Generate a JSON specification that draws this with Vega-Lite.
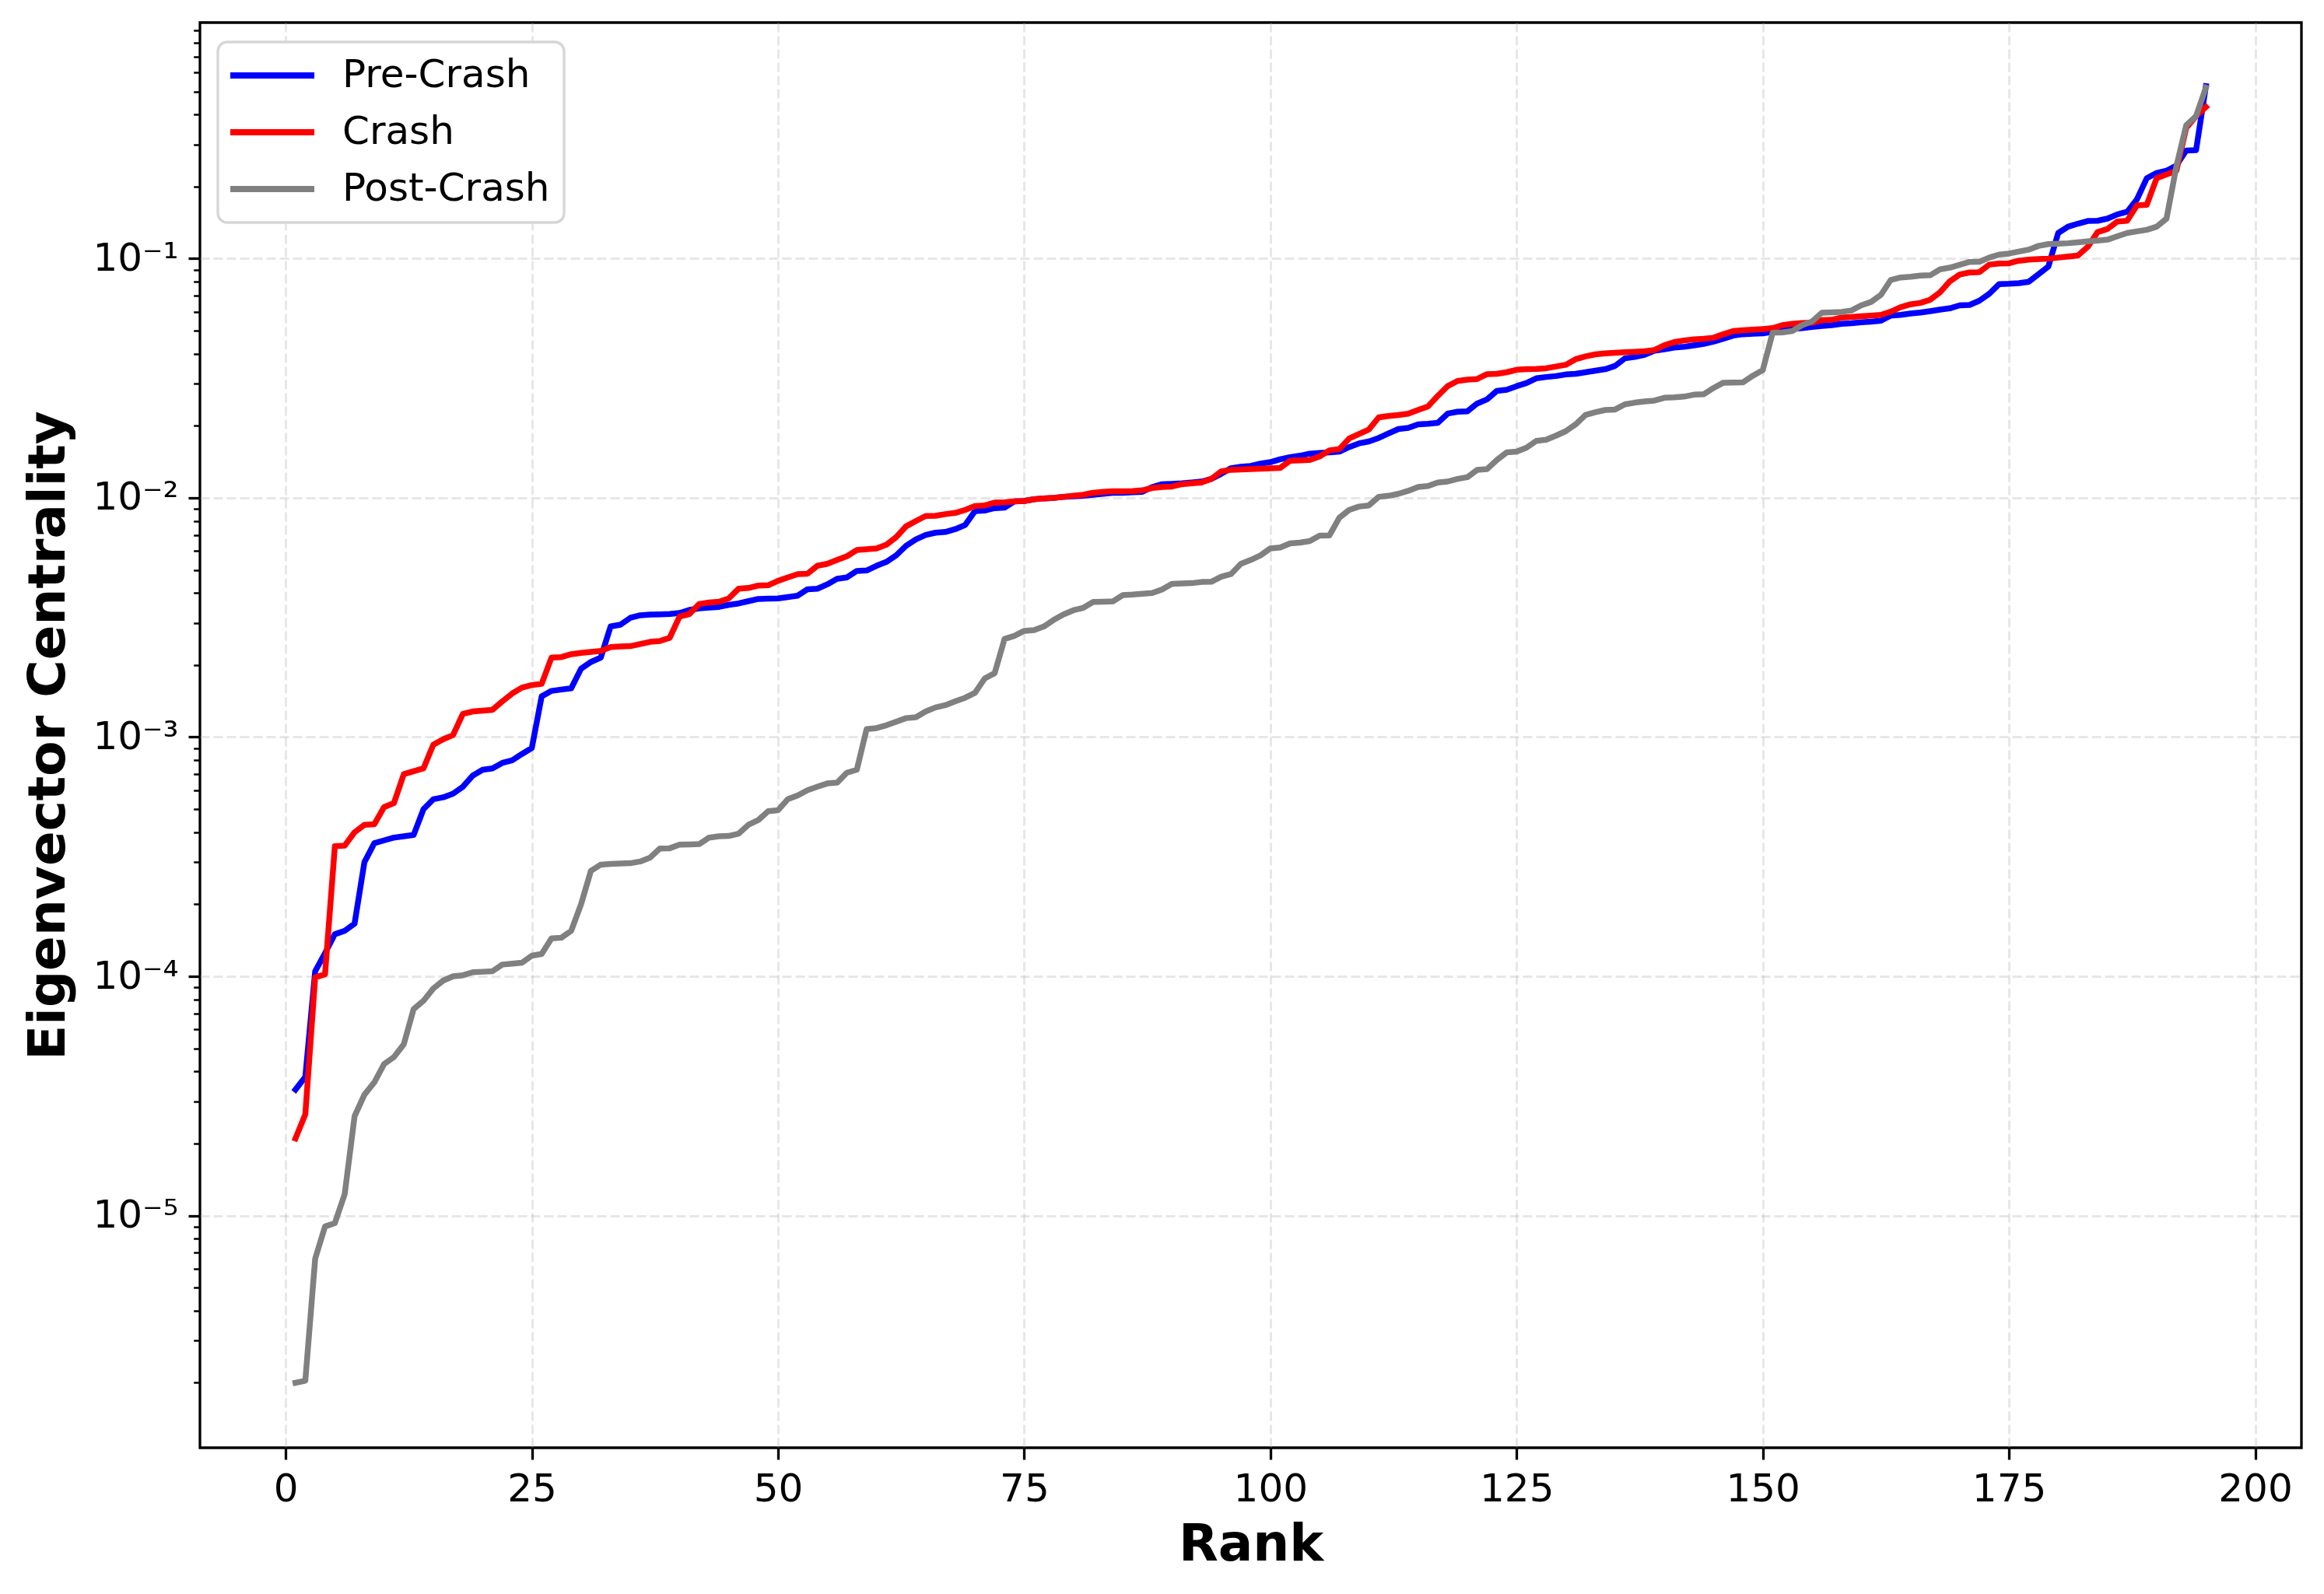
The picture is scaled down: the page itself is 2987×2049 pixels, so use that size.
{
"$schema": "https://vega.github.io/schema/vega-lite/v6.json",
"width": 2701, "height": 1832,
"autosize": {"type": "none"},
"padding": {"left": 257, "top": 29, "right": 29, "bottom": 188},
"background": "white",
"config": {
  "font": "DejaVu Sans",
  "view": {"stroke": "black", "strokeWidth": 3.3},
  "axis": {"domain": false, "labelColor": "black", "tickColor": "black", "titleColor": "black", "labelFont": "DejaVu Sans", "titleFont": "DejaVu Sans", "labelFontSize": 50, "titleFontSize": 66, "titleFontWeight": "bold", "labelPadding": 13, "gridColor": "#b0b0b0", "gridDash": [12, 5], "gridWidth": 3, "labelFlush": false, "labelOverlap": false}
},
"data": {"values": [
{"rank":1,"period":"Pre-Crash","centrality":3.36e-5},{"rank":2,"period":"Pre-Crash","centrality":3.8e-5},{"rank":3,"period":"Pre-Crash","centrality":1.05e-4},{"rank":4,"period":"Pre-Crash","centrality":1.25e-4},{"rank":5,"period":"Pre-Crash","centrality":1.5e-4},{"rank":6,"period":"Pre-Crash","centrality":1.55e-4},{"rank":7,"period":"Pre-Crash","centrality":1.66e-4},{"rank":8,"period":"Pre-Crash","centrality":3.0e-4},{"rank":9,"period":"Pre-Crash","centrality":3.6e-4},{"rank":10,"period":"Pre-Crash","centrality":3.7e-4},
{"rank":11,"period":"Pre-Crash","centrality":3.8e-4},{"rank":12,"period":"Pre-Crash","centrality":3.85e-4},{"rank":13,"period":"Pre-Crash","centrality":3.9e-4},{"rank":14,"period":"Pre-Crash","centrality":5.0e-4},{"rank":15,"period":"Pre-Crash","centrality":5.5e-4},{"rank":16,"period":"Pre-Crash","centrality":5.6e-4},{"rank":17,"period":"Pre-Crash","centrality":5.8e-4},{"rank":18,"period":"Pre-Crash","centrality":6.2e-4},{"rank":19,"period":"Pre-Crash","centrality":6.9e-4},{"rank":20,"period":"Pre-Crash","centrality":7.3e-4},
{"rank":21,"period":"Pre-Crash","centrality":7.4e-4},{"rank":22,"period":"Pre-Crash","centrality":7.8e-4},{"rank":23,"period":"Pre-Crash","centrality":8.0e-4},{"rank":24,"period":"Pre-Crash","centrality":8.5e-4},{"rank":25,"period":"Pre-Crash","centrality":9.0e-4},{"rank":26,"period":"Pre-Crash","centrality":1.48e-3},{"rank":27,"period":"Pre-Crash","centrality":1.56e-3},{"rank":28,"period":"Pre-Crash","centrality":1.58e-3},{"rank":29,"period":"Pre-Crash","centrality":1.6e-3},{"rank":30,"period":"Pre-Crash","centrality":1.93e-3},
{"rank":31,"period":"Pre-Crash","centrality":2.06e-3},{"rank":32,"period":"Pre-Crash","centrality":2.15e-3},{"rank":33,"period":"Pre-Crash","centrality":2.9e-3},{"rank":34,"period":"Pre-Crash","centrality":2.95e-3},{"rank":35,"period":"Pre-Crash","centrality":3.15e-3},{"rank":36,"period":"Pre-Crash","centrality":3.23e-3},{"rank":37,"period":"Pre-Crash","centrality":3.25e-3},{"rank":38,"period":"Pre-Crash","centrality":3.26e-3},{"rank":39,"period":"Pre-Crash","centrality":3.27e-3},{"rank":40,"period":"Pre-Crash","centrality":3.3e-3},
{"rank":41,"period":"Pre-Crash","centrality":3.4e-3},{"rank":42,"period":"Pre-Crash","centrality":3.45e-3},{"rank":43,"period":"Pre-Crash","centrality":3.48e-3},{"rank":44,"period":"Pre-Crash","centrality":3.5e-3},{"rank":45,"period":"Pre-Crash","centrality":3.57e-3},{"rank":46,"period":"Pre-Crash","centrality":3.62e-3},{"rank":47,"period":"Pre-Crash","centrality":3.7e-3},{"rank":48,"period":"Pre-Crash","centrality":3.78e-3},{"rank":49,"period":"Pre-Crash","centrality":3.79e-3},{"rank":50,"period":"Pre-Crash","centrality":3.8e-3},
{"rank":51,"period":"Pre-Crash","centrality":3.85e-3},{"rank":52,"period":"Pre-Crash","centrality":3.9e-3},{"rank":53,"period":"Pre-Crash","centrality":4.15e-3},{"rank":54,"period":"Pre-Crash","centrality":4.17e-3},{"rank":55,"period":"Pre-Crash","centrality":4.35e-3},{"rank":56,"period":"Pre-Crash","centrality":4.59e-3},{"rank":57,"period":"Pre-Crash","centrality":4.65e-3},{"rank":58,"period":"Pre-Crash","centrality":4.95e-3},{"rank":59,"period":"Pre-Crash","centrality":4.97e-3},{"rank":60,"period":"Pre-Crash","centrality":5.2e-3},
{"rank":61,"period":"Pre-Crash","centrality":5.4e-3},{"rank":62,"period":"Pre-Crash","centrality":5.75e-3},{"rank":63,"period":"Pre-Crash","centrality":6.3e-3},{"rank":64,"period":"Pre-Crash","centrality":6.7e-3},{"rank":65,"period":"Pre-Crash","centrality":7.0e-3},{"rank":66,"period":"Pre-Crash","centrality":7.15e-3},{"rank":67,"period":"Pre-Crash","centrality":7.2e-3},{"rank":68,"period":"Pre-Crash","centrality":7.4e-3},{"rank":69,"period":"Pre-Crash","centrality":7.7e-3},{"rank":70,"period":"Pre-Crash","centrality":8.8e-3},
{"rank":71,"period":"Pre-Crash","centrality":8.85e-3},{"rank":72,"period":"Pre-Crash","centrality":9.06e-3},{"rank":73,"period":"Pre-Crash","centrality":9.1e-3},{"rank":74,"period":"Pre-Crash","centrality":9.66e-3},{"rank":75,"period":"Pre-Crash","centrality":9.7e-3},{"rank":76,"period":"Pre-Crash","centrality":9.87e-3},{"rank":77,"period":"Pre-Crash","centrality":9.95e-3},{"rank":78,"period":"Pre-Crash","centrality":1.0e-2},{"rank":79,"period":"Pre-Crash","centrality":1.01e-2},{"rank":80,"period":"Pre-Crash","centrality":1.015e-2},
{"rank":81,"period":"Pre-Crash","centrality":1.02e-2},{"rank":82,"period":"Pre-Crash","centrality":1.03e-2},{"rank":83,"period":"Pre-Crash","centrality":1.04e-2},{"rank":84,"period":"Pre-Crash","centrality":1.05e-2},{"rank":85,"period":"Pre-Crash","centrality":1.05e-2},{"rank":86,"period":"Pre-Crash","centrality":1.055e-2},{"rank":87,"period":"Pre-Crash","centrality":1.06e-2},{"rank":88,"period":"Pre-Crash","centrality":1.11e-2},{"rank":89,"period":"Pre-Crash","centrality":1.14e-2},{"rank":90,"period":"Pre-Crash","centrality":1.145e-2},
{"rank":91,"period":"Pre-Crash","centrality":1.15e-2},{"rank":92,"period":"Pre-Crash","centrality":1.16e-2},{"rank":93,"period":"Pre-Crash","centrality":1.17e-2},{"rank":94,"period":"Pre-Crash","centrality":1.2e-2},{"rank":95,"period":"Pre-Crash","centrality":1.26e-2},{"rank":96,"period":"Pre-Crash","centrality":1.33e-2},{"rank":97,"period":"Pre-Crash","centrality":1.35e-2},{"rank":98,"period":"Pre-Crash","centrality":1.36e-2},{"rank":99,"period":"Pre-Crash","centrality":1.39e-2},{"rank":100,"period":"Pre-Crash","centrality":1.41e-2},
{"rank":101,"period":"Pre-Crash","centrality":1.45e-2},{"rank":102,"period":"Pre-Crash","centrality":1.48e-2},{"rank":103,"period":"Pre-Crash","centrality":1.5e-2},{"rank":104,"period":"Pre-Crash","centrality":1.53e-2},{"rank":105,"period":"Pre-Crash","centrality":1.54e-2},{"rank":106,"period":"Pre-Crash","centrality":1.55e-2},{"rank":107,"period":"Pre-Crash","centrality":1.56e-2},{"rank":108,"period":"Pre-Crash","centrality":1.63e-2},{"rank":109,"period":"Pre-Crash","centrality":1.69e-2},{"rank":110,"period":"Pre-Crash","centrality":1.72e-2},
{"rank":111,"period":"Pre-Crash","centrality":1.78e-2},{"rank":112,"period":"Pre-Crash","centrality":1.86e-2},{"rank":113,"period":"Pre-Crash","centrality":1.94e-2},{"rank":114,"period":"Pre-Crash","centrality":1.96e-2},{"rank":115,"period":"Pre-Crash","centrality":2.03e-2},{"rank":116,"period":"Pre-Crash","centrality":2.04e-2},{"rank":117,"period":"Pre-Crash","centrality":2.06e-2},{"rank":118,"period":"Pre-Crash","centrality":2.25e-2},{"rank":119,"period":"Pre-Crash","centrality":2.29e-2},{"rank":120,"period":"Pre-Crash","centrality":2.3e-2},
{"rank":121,"period":"Pre-Crash","centrality":2.48e-2},{"rank":122,"period":"Pre-Crash","centrality":2.58e-2},{"rank":123,"period":"Pre-Crash","centrality":2.8e-2},{"rank":124,"period":"Pre-Crash","centrality":2.83e-2},{"rank":125,"period":"Pre-Crash","centrality":2.93e-2},{"rank":126,"period":"Pre-Crash","centrality":3.02e-2},{"rank":127,"period":"Pre-Crash","centrality":3.16e-2},{"rank":128,"period":"Pre-Crash","centrality":3.2e-2},{"rank":129,"period":"Pre-Crash","centrality":3.23e-2},{"rank":130,"period":"Pre-Crash","centrality":3.28e-2},
{"rank":131,"period":"Pre-Crash","centrality":3.3e-2},{"rank":132,"period":"Pre-Crash","centrality":3.35e-2},{"rank":133,"period":"Pre-Crash","centrality":3.4e-2},{"rank":134,"period":"Pre-Crash","centrality":3.45e-2},{"rank":135,"period":"Pre-Crash","centrality":3.56e-2},{"rank":136,"period":"Pre-Crash","centrality":3.83e-2},{"rank":137,"period":"Pre-Crash","centrality":3.88e-2},{"rank":138,"period":"Pre-Crash","centrality":3.96e-2},{"rank":139,"period":"Pre-Crash","centrality":4.12e-2},{"rank":140,"period":"Pre-Crash","centrality":4.18e-2},
{"rank":141,"period":"Pre-Crash","centrality":4.25e-2},{"rank":142,"period":"Pre-Crash","centrality":4.28e-2},{"rank":143,"period":"Pre-Crash","centrality":4.34e-2},{"rank":144,"period":"Pre-Crash","centrality":4.4e-2},{"rank":145,"period":"Pre-Crash","centrality":4.5e-2},{"rank":146,"period":"Pre-Crash","centrality":4.63e-2},{"rank":147,"period":"Pre-Crash","centrality":4.77e-2},{"rank":148,"period":"Pre-Crash","centrality":4.83e-2},{"rank":149,"period":"Pre-Crash","centrality":4.85e-2},{"rank":150,"period":"Pre-Crash","centrality":4.87e-2},
{"rank":151,"period":"Pre-Crash","centrality":4.94e-2},{"rank":152,"period":"Pre-Crash","centrality":5.05e-2},{"rank":153,"period":"Pre-Crash","centrality":5.09e-2},{"rank":154,"period":"Pre-Crash","centrality":5.12e-2},{"rank":155,"period":"Pre-Crash","centrality":5.18e-2},{"rank":156,"period":"Pre-Crash","centrality":5.23e-2},{"rank":157,"period":"Pre-Crash","centrality":5.27e-2},{"rank":158,"period":"Pre-Crash","centrality":5.34e-2},{"rank":159,"period":"Pre-Crash","centrality":5.37e-2},{"rank":160,"period":"Pre-Crash","centrality":5.42e-2},
{"rank":161,"period":"Pre-Crash","centrality":5.45e-2},{"rank":162,"period":"Pre-Crash","centrality":5.5e-2},{"rank":163,"period":"Pre-Crash","centrality":5.78e-2},{"rank":164,"period":"Pre-Crash","centrality":5.82e-2},{"rank":165,"period":"Pre-Crash","centrality":5.9e-2},{"rank":166,"period":"Pre-Crash","centrality":5.95e-2},{"rank":167,"period":"Pre-Crash","centrality":6.03e-2},{"rank":168,"period":"Pre-Crash","centrality":6.12e-2},{"rank":169,"period":"Pre-Crash","centrality":6.2e-2},{"rank":170,"period":"Pre-Crash","centrality":6.38e-2},
{"rank":171,"period":"Pre-Crash","centrality":6.4e-2},{"rank":172,"period":"Pre-Crash","centrality":6.67e-2},{"rank":173,"period":"Pre-Crash","centrality":7.13e-2},{"rank":174,"period":"Pre-Crash","centrality":7.82e-2},{"rank":175,"period":"Pre-Crash","centrality":7.85e-2},{"rank":176,"period":"Pre-Crash","centrality":7.9e-2},{"rank":177,"period":"Pre-Crash","centrality":8.0e-2},{"rank":178,"period":"Pre-Crash","centrality":8.6e-2},{"rank":179,"period":"Pre-Crash","centrality":9.27e-2},{"rank":180,"period":"Pre-Crash","centrality":0.128},
{"rank":181,"period":"Pre-Crash","centrality":0.136},{"rank":182,"period":"Pre-Crash","centrality":0.14},{"rank":183,"period":"Pre-Crash","centrality":0.1436},{"rank":184,"period":"Pre-Crash","centrality":0.144},{"rank":185,"period":"Pre-Crash","centrality":0.147},{"rank":186,"period":"Pre-Crash","centrality":0.153},{"rank":187,"period":"Pre-Crash","centrality":0.157},{"rank":188,"period":"Pre-Crash","centrality":0.177},{"rank":189,"period":"Pre-Crash","centrality":0.217},{"rank":190,"period":"Pre-Crash","centrality":0.228},
{"rank":191,"period":"Pre-Crash","centrality":0.233},{"rank":192,"period":"Pre-Crash","centrality":0.245},{"rank":193,"period":"Pre-Crash","centrality":0.283},{"rank":194,"period":"Pre-Crash","centrality":0.284},{"rank":195,"period":"Pre-Crash","centrality":0.526},
{"rank":1,"period":"Crash","centrality":2.1e-5},{"rank":2,"period":"Crash","centrality":2.65e-5},{"rank":3,"period":"Crash","centrality":9.9e-5},{"rank":4,"period":"Crash","centrality":1.02e-4},{"rank":5,"period":"Crash","centrality":3.5e-4},{"rank":6,"period":"Crash","centrality":3.52e-4},{"rank":7,"period":"Crash","centrality":4.0e-4},{"rank":8,"period":"Crash","centrality":4.3e-4},{"rank":9,"period":"Crash","centrality":4.32e-4},{"rank":10,"period":"Crash","centrality":5.1e-4},
{"rank":11,"period":"Crash","centrality":5.3e-4},{"rank":12,"period":"Crash","centrality":7.0e-4},{"rank":13,"period":"Crash","centrality":7.2e-4},{"rank":14,"period":"Crash","centrality":7.4e-4},{"rank":15,"period":"Crash","centrality":9.3e-4},{"rank":16,"period":"Crash","centrality":9.8e-4},{"rank":17,"period":"Crash","centrality":1.02e-3},{"rank":18,"period":"Crash","centrality":1.25e-3},{"rank":19,"period":"Crash","centrality":1.28e-3},{"rank":20,"period":"Crash","centrality":1.29e-3},
{"rank":21,"period":"Crash","centrality":1.3e-3},{"rank":22,"period":"Crash","centrality":1.41e-3},{"rank":23,"period":"Crash","centrality":1.52e-3},{"rank":24,"period":"Crash","centrality":1.61e-3},{"rank":25,"period":"Crash","centrality":1.65e-3},{"rank":26,"period":"Crash","centrality":1.67e-3},{"rank":27,"period":"Crash","centrality":2.15e-3},{"rank":28,"period":"Crash","centrality":2.16e-3},{"rank":29,"period":"Crash","centrality":2.22e-3},{"rank":30,"period":"Crash","centrality":2.25e-3},
{"rank":31,"period":"Crash","centrality":2.27e-3},{"rank":32,"period":"Crash","centrality":2.29e-3},{"rank":33,"period":"Crash","centrality":2.38e-3},{"rank":34,"period":"Crash","centrality":2.39e-3},{"rank":35,"period":"Crash","centrality":2.4e-3},{"rank":36,"period":"Crash","centrality":2.45e-3},{"rank":37,"period":"Crash","centrality":2.5e-3},{"rank":38,"period":"Crash","centrality":2.52e-3},{"rank":39,"period":"Crash","centrality":2.6e-3},{"rank":40,"period":"Crash","centrality":3.19e-3},
{"rank":41,"period":"Crash","centrality":3.27e-3},{"rank":42,"period":"Crash","centrality":3.6e-3},{"rank":43,"period":"Crash","centrality":3.65e-3},{"rank":44,"period":"Crash","centrality":3.68e-3},{"rank":45,"period":"Crash","centrality":3.8e-3},{"rank":46,"period":"Crash","centrality":4.17e-3},{"rank":47,"period":"Crash","centrality":4.2e-3},{"rank":48,"period":"Crash","centrality":4.3e-3},{"rank":49,"period":"Crash","centrality":4.31e-3},{"rank":50,"period":"Crash","centrality":4.5e-3},
{"rank":51,"period":"Crash","centrality":4.65e-3},{"rank":52,"period":"Crash","centrality":4.8e-3},{"rank":53,"period":"Crash","centrality":4.82e-3},{"rank":54,"period":"Crash","centrality":5.2e-3},{"rank":55,"period":"Crash","centrality":5.3e-3},{"rank":56,"period":"Crash","centrality":5.5e-3},{"rank":57,"period":"Crash","centrality":5.7e-3},{"rank":58,"period":"Crash","centrality":6.05e-3},{"rank":59,"period":"Crash","centrality":6.1e-3},{"rank":60,"period":"Crash","centrality":6.15e-3},
{"rank":61,"period":"Crash","centrality":6.37e-3},{"rank":62,"period":"Crash","centrality":6.85e-3},{"rank":63,"period":"Crash","centrality":7.6e-3},{"rank":64,"period":"Crash","centrality":8.0e-3},{"rank":65,"period":"Crash","centrality":8.4e-3},{"rank":66,"period":"Crash","centrality":8.42e-3},{"rank":67,"period":"Crash","centrality":8.55e-3},{"rank":68,"period":"Crash","centrality":8.65e-3},{"rank":69,"period":"Crash","centrality":8.9e-3},{"rank":70,"period":"Crash","centrality":9.25e-3},
{"rank":71,"period":"Crash","centrality":9.3e-3},{"rank":72,"period":"Crash","centrality":9.55e-3},{"rank":73,"period":"Crash","centrality":9.57e-3},{"rank":74,"period":"Crash","centrality":9.66e-3},{"rank":75,"period":"Crash","centrality":9.7e-3},{"rank":76,"period":"Crash","centrality":9.87e-3},{"rank":77,"period":"Crash","centrality":9.95e-3},{"rank":78,"period":"Crash","centrality":1.0e-2},{"rank":79,"period":"Crash","centrality":1.01e-2},{"rank":80,"period":"Crash","centrality":1.02e-2},
{"rank":81,"period":"Crash","centrality":1.03e-2},{"rank":82,"period":"Crash","centrality":1.05e-2},{"rank":83,"period":"Crash","centrality":1.06e-2},{"rank":84,"period":"Crash","centrality":1.065e-2},{"rank":85,"period":"Crash","centrality":1.066e-2},{"rank":86,"period":"Crash","centrality":1.068e-2},{"rank":87,"period":"Crash","centrality":1.075e-2},{"rank":88,"period":"Crash","centrality":1.1e-2},{"rank":89,"period":"Crash","centrality":1.11e-2},{"rank":90,"period":"Crash","centrality":1.115e-2},
{"rank":91,"period":"Crash","centrality":1.14e-2},{"rank":92,"period":"Crash","centrality":1.15e-2},{"rank":93,"period":"Crash","centrality":1.16e-2},{"rank":94,"period":"Crash","centrality":1.2e-2},{"rank":95,"period":"Crash","centrality":1.29e-2},{"rank":96,"period":"Crash","centrality":1.31e-2},{"rank":97,"period":"Crash","centrality":1.315e-2},{"rank":98,"period":"Crash","centrality":1.32e-2},{"rank":99,"period":"Crash","centrality":1.325e-2},{"rank":100,"period":"Crash","centrality":1.33e-2},
{"rank":101,"period":"Crash","centrality":1.335e-2},{"rank":102,"period":"Crash","centrality":1.43e-2},{"rank":103,"period":"Crash","centrality":1.435e-2},{"rank":104,"period":"Crash","centrality":1.44e-2},{"rank":105,"period":"Crash","centrality":1.49e-2},{"rank":106,"period":"Crash","centrality":1.58e-2},{"rank":107,"period":"Crash","centrality":1.6e-2},{"rank":108,"period":"Crash","centrality":1.77e-2},{"rank":109,"period":"Crash","centrality":1.85e-2},{"rank":110,"period":"Crash","centrality":1.93e-2},
{"rank":111,"period":"Crash","centrality":2.17e-2},{"rank":112,"period":"Crash","centrality":2.2e-2},{"rank":113,"period":"Crash","centrality":2.22e-2},{"rank":114,"period":"Crash","centrality":2.25e-2},{"rank":115,"period":"Crash","centrality":2.33e-2},{"rank":116,"period":"Crash","centrality":2.41e-2},{"rank":117,"period":"Crash","centrality":2.67e-2},{"rank":118,"period":"Crash","centrality":2.93e-2},{"rank":119,"period":"Crash","centrality":3.08e-2},{"rank":120,"period":"Crash","centrality":3.12e-2},
{"rank":121,"period":"Crash","centrality":3.14e-2},{"rank":122,"period":"Crash","centrality":3.29e-2},{"rank":123,"period":"Crash","centrality":3.3e-2},{"rank":124,"period":"Crash","centrality":3.35e-2},{"rank":125,"period":"Crash","centrality":3.43e-2},{"rank":126,"period":"Crash","centrality":3.45e-2},{"rank":127,"period":"Crash","centrality":3.46e-2},{"rank":128,"period":"Crash","centrality":3.48e-2},{"rank":129,"period":"Crash","centrality":3.54e-2},{"rank":130,"period":"Crash","centrality":3.6e-2},
{"rank":131,"period":"Crash","centrality":3.8e-2},{"rank":132,"period":"Crash","centrality":3.9e-2},{"rank":133,"period":"Crash","centrality":3.98e-2},{"rank":134,"period":"Crash","centrality":4.02e-2},{"rank":135,"period":"Crash","centrality":4.04e-2},{"rank":136,"period":"Crash","centrality":4.06e-2},{"rank":137,"period":"Crash","centrality":4.08e-2},{"rank":138,"period":"Crash","centrality":4.1e-2},{"rank":139,"period":"Crash","centrality":4.15e-2},{"rank":140,"period":"Crash","centrality":4.34e-2},
{"rank":141,"period":"Crash","centrality":4.48e-2},{"rank":142,"period":"Crash","centrality":4.55e-2},{"rank":143,"period":"Crash","centrality":4.6e-2},{"rank":144,"period":"Crash","centrality":4.62e-2},{"rank":145,"period":"Crash","centrality":4.67e-2},{"rank":146,"period":"Crash","centrality":4.83e-2},{"rank":147,"period":"Crash","centrality":4.98e-2},{"rank":148,"period":"Crash","centrality":5.02e-2},{"rank":149,"period":"Crash","centrality":5.05e-2},{"rank":150,"period":"Crash","centrality":5.08e-2},
{"rank":151,"period":"Crash","centrality":5.12e-2},{"rank":152,"period":"Crash","centrality":5.27e-2},{"rank":153,"period":"Crash","centrality":5.34e-2},{"rank":154,"period":"Crash","centrality":5.38e-2},{"rank":155,"period":"Crash","centrality":5.4e-2},{"rank":156,"period":"Crash","centrality":5.53e-2},{"rank":157,"period":"Crash","centrality":5.55e-2},{"rank":158,"period":"Crash","centrality":5.67e-2},{"rank":159,"period":"Crash","centrality":5.7e-2},{"rank":160,"period":"Crash","centrality":5.74e-2},
{"rank":161,"period":"Crash","centrality":5.78e-2},{"rank":162,"period":"Crash","centrality":5.82e-2},{"rank":163,"period":"Crash","centrality":6.0e-2},{"rank":164,"period":"Crash","centrality":6.27e-2},{"rank":165,"period":"Crash","centrality":6.44e-2},{"rank":166,"period":"Crash","centrality":6.53e-2},{"rank":167,"period":"Crash","centrality":6.73e-2},{"rank":168,"period":"Crash","centrality":7.23e-2},{"rank":169,"period":"Crash","centrality":8.04e-2},{"rank":170,"period":"Crash","centrality":8.58e-2},
{"rank":171,"period":"Crash","centrality":8.75e-2},{"rank":172,"period":"Crash","centrality":8.78e-2},{"rank":173,"period":"Crash","centrality":9.44e-2},{"rank":174,"period":"Crash","centrality":9.54e-2},{"rank":175,"period":"Crash","centrality":9.56e-2},{"rank":176,"period":"Crash","centrality":9.8e-2},{"rank":177,"period":"Crash","centrality":9.9e-2},{"rank":178,"period":"Crash","centrality":9.95e-2},{"rank":179,"period":"Crash","centrality":0.1},{"rank":180,"period":"Crash","centrality":0.101},
{"rank":181,"period":"Crash","centrality":0.102},{"rank":182,"period":"Crash","centrality":0.103},{"rank":183,"period":"Crash","centrality":0.112},{"rank":184,"period":"Crash","centrality":0.129},{"rank":185,"period":"Crash","centrality":0.133},{"rank":186,"period":"Crash","centrality":0.143},{"rank":187,"period":"Crash","centrality":0.144},{"rank":188,"period":"Crash","centrality":0.167},{"rank":189,"period":"Crash","centrality":0.168},{"rank":190,"period":"Crash","centrality":0.217},
{"rank":191,"period":"Crash","centrality":0.225},{"rank":192,"period":"Crash","centrality":0.233},{"rank":193,"period":"Crash","centrality":0.352},{"rank":194,"period":"Crash","centrality":0.394},{"rank":195,"period":"Crash","centrality":0.43},
{"rank":1,"period":"Post-Crash","centrality":2.0e-6},{"rank":2,"period":"Post-Crash","centrality":2.04e-6},{"rank":3,"period":"Post-Crash","centrality":6.6e-6},{"rank":4,"period":"Post-Crash","centrality":9.0e-6},{"rank":5,"period":"Post-Crash","centrality":9.3e-6},{"rank":6,"period":"Post-Crash","centrality":1.23e-5},{"rank":7,"period":"Post-Crash","centrality":2.6e-5},{"rank":8,"period":"Post-Crash","centrality":3.2e-5},{"rank":9,"period":"Post-Crash","centrality":3.6e-5},{"rank":10,"period":"Post-Crash","centrality":4.3e-5},
{"rank":11,"period":"Post-Crash","centrality":4.6e-5},{"rank":12,"period":"Post-Crash","centrality":5.2e-5},{"rank":13,"period":"Post-Crash","centrality":7.3e-5},{"rank":14,"period":"Post-Crash","centrality":7.9e-5},{"rank":15,"period":"Post-Crash","centrality":8.9e-5},{"rank":16,"period":"Post-Crash","centrality":9.6e-5},{"rank":17,"period":"Post-Crash","centrality":1.0e-4},{"rank":18,"period":"Post-Crash","centrality":1.01e-4},{"rank":19,"period":"Post-Crash","centrality":1.04e-4},{"rank":20,"period":"Post-Crash","centrality":1.045e-4},
{"rank":21,"period":"Post-Crash","centrality":1.05e-4},{"rank":22,"period":"Post-Crash","centrality":1.12e-4},{"rank":23,"period":"Post-Crash","centrality":1.13e-4},{"rank":24,"period":"Post-Crash","centrality":1.14e-4},{"rank":25,"period":"Post-Crash","centrality":1.22e-4},{"rank":26,"period":"Post-Crash","centrality":1.24e-4},{"rank":27,"period":"Post-Crash","centrality":1.44e-4},{"rank":28,"period":"Post-Crash","centrality":1.45e-4},{"rank":29,"period":"Post-Crash","centrality":1.55e-4},{"rank":30,"period":"Post-Crash","centrality":2.0e-4},
{"rank":31,"period":"Post-Crash","centrality":2.76e-4},{"rank":32,"period":"Post-Crash","centrality":2.93e-4},{"rank":33,"period":"Post-Crash","centrality":2.95e-4},{"rank":34,"period":"Post-Crash","centrality":2.96e-4},{"rank":35,"period":"Post-Crash","centrality":2.97e-4},{"rank":36,"period":"Post-Crash","centrality":3.02e-4},{"rank":37,"period":"Post-Crash","centrality":3.13e-4},{"rank":38,"period":"Post-Crash","centrality":3.42e-4},{"rank":39,"period":"Post-Crash","centrality":3.43e-4},{"rank":40,"period":"Post-Crash","centrality":3.55e-4},
{"rank":41,"period":"Post-Crash","centrality":3.56e-4},{"rank":42,"period":"Post-Crash","centrality":3.57e-4},{"rank":43,"period":"Post-Crash","centrality":3.8e-4},{"rank":44,"period":"Post-Crash","centrality":3.85e-4},{"rank":45,"period":"Post-Crash","centrality":3.86e-4},{"rank":46,"period":"Post-Crash","centrality":3.95e-4},{"rank":47,"period":"Post-Crash","centrality":4.3e-4},{"rank":48,"period":"Post-Crash","centrality":4.5e-4},{"rank":49,"period":"Post-Crash","centrality":4.9e-4},{"rank":50,"period":"Post-Crash","centrality":4.95e-4},
{"rank":51,"period":"Post-Crash","centrality":5.5e-4},{"rank":52,"period":"Post-Crash","centrality":5.7e-4},{"rank":53,"period":"Post-Crash","centrality":6.0e-4},{"rank":54,"period":"Post-Crash","centrality":6.2e-4},{"rank":55,"period":"Post-Crash","centrality":6.4e-4},{"rank":56,"period":"Post-Crash","centrality":6.45e-4},{"rank":57,"period":"Post-Crash","centrality":7.1e-4},{"rank":58,"period":"Post-Crash","centrality":7.3e-4},{"rank":59,"period":"Post-Crash","centrality":1.08e-3},{"rank":60,"period":"Post-Crash","centrality":1.09e-3},
{"rank":61,"period":"Post-Crash","centrality":1.12e-3},{"rank":62,"period":"Post-Crash","centrality":1.16e-3},{"rank":63,"period":"Post-Crash","centrality":1.2e-3},{"rank":64,"period":"Post-Crash","centrality":1.21e-3},{"rank":65,"period":"Post-Crash","centrality":1.28e-3},{"rank":66,"period":"Post-Crash","centrality":1.33e-3},{"rank":67,"period":"Post-Crash","centrality":1.36e-3},{"rank":68,"period":"Post-Crash","centrality":1.41e-3},{"rank":69,"period":"Post-Crash","centrality":1.46e-3},{"rank":70,"period":"Post-Crash","centrality":1.53e-3},
{"rank":71,"period":"Post-Crash","centrality":1.76e-3},{"rank":72,"period":"Post-Crash","centrality":1.85e-3},{"rank":73,"period":"Post-Crash","centrality":2.57e-3},{"rank":74,"period":"Post-Crash","centrality":2.65e-3},{"rank":75,"period":"Post-Crash","centrality":2.78e-3},{"rank":76,"period":"Post-Crash","centrality":2.8e-3},{"rank":77,"period":"Post-Crash","centrality":2.9e-3},{"rank":78,"period":"Post-Crash","centrality":3.09e-3},{"rank":79,"period":"Post-Crash","centrality":3.26e-3},{"rank":80,"period":"Post-Crash","centrality":3.39e-3},
{"rank":81,"period":"Post-Crash","centrality":3.47e-3},{"rank":82,"period":"Post-Crash","centrality":3.67e-3},{"rank":83,"period":"Post-Crash","centrality":3.68e-3},{"rank":84,"period":"Post-Crash","centrality":3.69e-3},{"rank":85,"period":"Post-Crash","centrality":3.92e-3},{"rank":86,"period":"Post-Crash","centrality":3.94e-3},{"rank":87,"period":"Post-Crash","centrality":3.97e-3},{"rank":88,"period":"Post-Crash","centrality":4.0e-3},{"rank":89,"period":"Post-Crash","centrality":4.14e-3},{"rank":90,"period":"Post-Crash","centrality":4.37e-3},
{"rank":91,"period":"Post-Crash","centrality":4.39e-3},{"rank":92,"period":"Post-Crash","centrality":4.4e-3},{"rank":93,"period":"Post-Crash","centrality":4.45e-3},{"rank":94,"period":"Post-Crash","centrality":4.46e-3},{"rank":95,"period":"Post-Crash","centrality":4.68e-3},{"rank":96,"period":"Post-Crash","centrality":4.8e-3},{"rank":97,"period":"Post-Crash","centrality":5.3e-3},{"rank":98,"period":"Post-Crash","centrality":5.5e-3},{"rank":99,"period":"Post-Crash","centrality":5.75e-3},{"rank":100,"period":"Post-Crash","centrality":6.15e-3},
{"rank":101,"period":"Post-Crash","centrality":6.2e-3},{"rank":102,"period":"Post-Crash","centrality":6.45e-3},{"rank":103,"period":"Post-Crash","centrality":6.5e-3},{"rank":104,"period":"Post-Crash","centrality":6.6e-3},{"rank":105,"period":"Post-Crash","centrality":6.95e-3},{"rank":106,"period":"Post-Crash","centrality":6.97e-3},{"rank":107,"period":"Post-Crash","centrality":8.26e-3},{"rank":108,"period":"Post-Crash","centrality":8.9e-3},{"rank":109,"period":"Post-Crash","centrality":9.2e-3},{"rank":110,"period":"Post-Crash","centrality":9.3e-3},
{"rank":111,"period":"Post-Crash","centrality":1.01e-2},{"rank":112,"period":"Post-Crash","centrality":1.02e-2},{"rank":113,"period":"Post-Crash","centrality":1.04e-2},{"rank":114,"period":"Post-Crash","centrality":1.07e-2},{"rank":115,"period":"Post-Crash","centrality":1.11e-2},{"rank":116,"period":"Post-Crash","centrality":1.12e-2},{"rank":117,"period":"Post-Crash","centrality":1.16e-2},{"rank":118,"period":"Post-Crash","centrality":1.17e-2},{"rank":119,"period":"Post-Crash","centrality":1.2e-2},{"rank":120,"period":"Post-Crash","centrality":1.22e-2},
{"rank":121,"period":"Post-Crash","centrality":1.31e-2},{"rank":122,"period":"Post-Crash","centrality":1.32e-2},{"rank":123,"period":"Post-Crash","centrality":1.44e-2},{"rank":124,"period":"Post-Crash","centrality":1.55e-2},{"rank":125,"period":"Post-Crash","centrality":1.56e-2},{"rank":126,"period":"Post-Crash","centrality":1.62e-2},{"rank":127,"period":"Post-Crash","centrality":1.73e-2},{"rank":128,"period":"Post-Crash","centrality":1.75e-2},{"rank":129,"period":"Post-Crash","centrality":1.82e-2},{"rank":130,"period":"Post-Crash","centrality":1.9e-2},
{"rank":131,"period":"Post-Crash","centrality":2.03e-2},{"rank":132,"period":"Post-Crash","centrality":2.22e-2},{"rank":133,"period":"Post-Crash","centrality":2.28e-2},{"rank":134,"period":"Post-Crash","centrality":2.33e-2},{"rank":135,"period":"Post-Crash","centrality":2.34e-2},{"rank":136,"period":"Post-Crash","centrality":2.46e-2},{"rank":137,"period":"Post-Crash","centrality":2.5e-2},{"rank":138,"period":"Post-Crash","centrality":2.53e-2},{"rank":139,"period":"Post-Crash","centrality":2.55e-2},{"rank":140,"period":"Post-Crash","centrality":2.62e-2},
{"rank":141,"period":"Post-Crash","centrality":2.63e-2},{"rank":142,"period":"Post-Crash","centrality":2.65e-2},{"rank":143,"period":"Post-Crash","centrality":2.7e-2},{"rank":144,"period":"Post-Crash","centrality":2.71e-2},{"rank":145,"period":"Post-Crash","centrality":2.88e-2},{"rank":146,"period":"Post-Crash","centrality":3.03e-2},{"rank":147,"period":"Post-Crash","centrality":3.035e-2},{"rank":148,"period":"Post-Crash","centrality":3.04e-2},{"rank":149,"period":"Post-Crash","centrality":3.24e-2},{"rank":150,"period":"Post-Crash","centrality":3.42e-2},
{"rank":151,"period":"Post-Crash","centrality":4.9e-2},{"rank":152,"period":"Post-Crash","centrality":4.92e-2},{"rank":153,"period":"Post-Crash","centrality":4.98e-2},{"rank":154,"period":"Post-Crash","centrality":5.27e-2},{"rank":155,"period":"Post-Crash","centrality":5.46e-2},{"rank":156,"period":"Post-Crash","centrality":5.94e-2},{"rank":157,"period":"Post-Crash","centrality":5.96e-2},{"rank":158,"period":"Post-Crash","centrality":5.99e-2},{"rank":159,"period":"Post-Crash","centrality":6.07e-2},{"rank":160,"period":"Post-Crash","centrality":6.38e-2},
{"rank":161,"period":"Post-Crash","centrality":6.59e-2},{"rank":162,"period":"Post-Crash","centrality":7.06e-2},{"rank":163,"period":"Post-Crash","centrality":8.15e-2},{"rank":164,"period":"Post-Crash","centrality":8.34e-2},{"rank":165,"period":"Post-Crash","centrality":8.4e-2},{"rank":166,"period":"Post-Crash","centrality":8.5e-2},{"rank":167,"period":"Post-Crash","centrality":8.52e-2},{"rank":168,"period":"Post-Crash","centrality":9.02e-2},{"rank":169,"period":"Post-Crash","centrality":9.17e-2},{"rank":170,"period":"Post-Crash","centrality":9.42e-2},
{"rank":171,"period":"Post-Crash","centrality":9.69e-2},{"rank":172,"period":"Post-Crash","centrality":9.7e-2},{"rank":173,"period":"Post-Crash","centrality":0.101},{"rank":174,"period":"Post-Crash","centrality":0.104},{"rank":175,"period":"Post-Crash","centrality":0.105},{"rank":176,"period":"Post-Crash","centrality":0.107},{"rank":177,"period":"Post-Crash","centrality":0.109},{"rank":178,"period":"Post-Crash","centrality":0.113},{"rank":179,"period":"Post-Crash","centrality":0.115},{"rank":180,"period":"Post-Crash","centrality":0.1155},
{"rank":181,"period":"Post-Crash","centrality":0.116},{"rank":182,"period":"Post-Crash","centrality":0.117},{"rank":183,"period":"Post-Crash","centrality":0.118},{"rank":184,"period":"Post-Crash","centrality":0.119},{"rank":185,"period":"Post-Crash","centrality":0.12},{"rank":186,"period":"Post-Crash","centrality":0.124},{"rank":187,"period":"Post-Crash","centrality":0.128},{"rank":188,"period":"Post-Crash","centrality":0.13},{"rank":189,"period":"Post-Crash","centrality":0.132},{"rank":190,"period":"Post-Crash","centrality":0.136},
{"rank":191,"period":"Post-Crash","centrality":0.147},{"rank":192,"period":"Post-Crash","centrality":0.243},{"rank":193,"period":"Post-Crash","centrality":0.361},{"rank":194,"period":"Post-Crash","centrality":0.394},{"rank":195,"period":"Post-Crash","centrality":0.519}
]},
"mark": {"type": "line", "strokeWidth": 7.5, "strokeJoin": "round", "strokeCap": "square"},
"encoding": {
  "x": {"field": "rank", "type": "quantitative",
    "scale": {"domain": [-8.7, 204.7], "nice": false, "zero": false},
    "axis": {"values": [0, 25, 50, 75, 100, 125, 150, 175, 200], "title": "Rank", "grid": true, "gridOpacity": 0.3, "tickSize": 15, "tickWidth": 3.3, "titlePadding": 14}},
  "y": {"field": "centrality", "type": "quantitative",
    "scale": {"type": "log", "domain": [1.07e-6, 0.97], "nice": false},
    "axis": {"title": "Eigenvector Centrality", "grid": true, "titlePadding": 22,
      "values": [2e-6,3e-6,4e-6,5e-6,6e-6,7e-6,8e-6,9e-6,1e-5,2e-5,3e-5,4e-5,5e-5,6e-5,7e-5,8e-5,9e-5,1e-4,2e-4,3e-4,4e-4,5e-4,6e-4,7e-4,8e-4,9e-4,1e-3,2e-3,3e-3,4e-3,5e-3,6e-3,7e-3,8e-3,9e-3,1e-2,2e-2,3e-2,4e-2,5e-2,6e-2,7e-2,8e-2,9e-2,0.1,0.2,0.3,0.4,0.5,0.6,0.7,0.8,0.9],
      "labelExpr": "abs(log(datum.value)/LN10 - round(log(datum.value)/LN10)) > 0.01 ? '' : datum.value > 0.05 ? '10⁻¹' : datum.value > 0.005 ? '10⁻²' : datum.value > 0.0005 ? '10⁻³' : datum.value > 0.00005 ? '10⁻⁴' : '10⁻⁵'",
      "tickSize": {"condition": {"test": "abs(log(datum.value)/LN10 - round(log(datum.value)/LN10)) < 0.01", "value": 15}, "value": 8.3},
      "tickWidth": {"condition": {"test": "abs(log(datum.value)/LN10 - round(log(datum.value)/LN10)) < 0.01", "value": 3.3}, "value": 2.5},
      "gridOpacity": {"condition": {"test": "abs(log(datum.value)/LN10 - round(log(datum.value)/LN10)) < 0.01", "value": 0.3}, "value": 0}}},
  "color": {"field": "period", "type": "nominal",
    "scale": {"domain": ["Pre-Crash", "Crash", "Post-Crash"], "range": ["#0000ff", "#ff0000", "#808080"]},
    "legend": {"title": null, "orient": "none", "legendX": 23, "legendY": 25, "symbolType": "M-1.5,0L4.5,0", "symbolSize": 1296, "symbolStrokeWidth": 8, "labelFontSize": 50, "labelFont": "DejaVu Sans", "labelColor": "black", "labelOffset": 92, "rowPadding": 23, "padding": 18, "strokeColor": "#d6d6d6", "cornerRadius": 12, "fillColor": "white", "labelLimit": 1000,
      "encode": {"legend": {"update": {"strokeWidth": {"value": 3.3}}}, "symbols": {"update": {"strokeCap": {"value": "butt"}}}}}}
}
}
